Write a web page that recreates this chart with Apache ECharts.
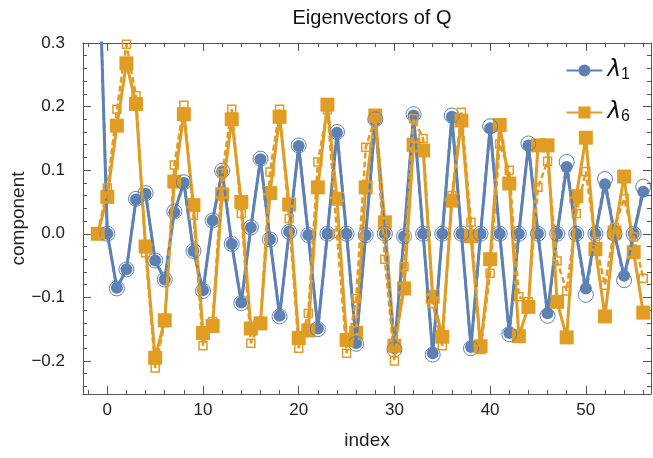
<!DOCTYPE html>
<html>
<head>
<meta charset="utf-8">
<script src="https://cdn.jsdelivr.net/npm/echarts@6.0.0/dist/echarts.min.js"></script>
<style>
  html, body { margin: 0; padding: 0; background: #fff; }
  #chart { width: 653px; height: 458px; }
</style>
</head>
<body>
<div id="chart"></div>
<script>
// index of each component
var indexData = [-1, 0, 1, 2, 3, 4, 5, 6, 7, 8, 9, 10, 11, 12, 13, 14, 15, 16, 17, 18, 19,
  20, 21, 22, 23, 24, 25, 26, 27, 28, 29, 30, 31, 32, 33, 34, 35, 36, 37, 38, 39,
  40, 41, 42, 43, 44, 45, 46, 47, 48, 49, 50, 51, 52, 53, 54, 55, 56];

// λ1, filled circles (solid line)
var lambda1 = [0.5, 0.0, -0.085, -0.056, 0.054, 0.063, -0.042, -0.072, 0.034, 0.08, -0.027,
  -0.089, 0.021, 0.098, -0.016, -0.108, 0.01, 0.117, -0.009, -0.129, 0.003,
  0.138, -0.002, -0.149, 0.0, 0.159, 0.0, -0.172, -0.002, 0.178, 0.0,
  -0.18, -0.004, 0.186, 0.0, -0.188, 0.0, 0.184, 0.0, -0.178, 0.0,
  0.166, 0.0, -0.156, 0.0, 0.139, 0.0, -0.125, 0.0, 0.105, 0.0,
  -0.086, 0.0, 0.078, 0.0, -0.066, 0.0, 0.066];

// λ1, open circles (dashed line)
var lambda1Ref = [0.5, 0.0, -0.086, -0.056, 0.055, 0.064, -0.042, -0.072, 0.035, 0.081, -0.027,
  -0.09, 0.021, 0.099, -0.016, -0.109, 0.01, 0.118, -0.009, -0.13, 0.003,
  0.139, -0.002, -0.15, 0.0, 0.16, 0.0, -0.173, -0.002, 0.18, 0.0,
  -0.182, -0.004, 0.188, 0.0, -0.19, 0.0, 0.186, 0.0, -0.18, 0.0,
  0.169, 0.0, -0.158, 0.0, 0.142, 0.0, -0.129, 0.0, 0.113, 0.0,
  -0.096, 0.0, 0.086, 0.0, -0.073, 0.0, 0.074];

// λ6, filled squares (solid line)
var lambda6 = [0.0, 0.058, 0.17, 0.268, 0.204, -0.02, -0.195, -0.136, 0.082, 0.188, 0.045,
  -0.156, -0.145, 0.062, 0.18, 0.05, -0.149, -0.141, 0.064, 0.184, 0.046,
  -0.164, -0.152, 0.073, 0.203, 0.055, -0.167, -0.156, 0.073, 0.186, 0.018,
  -0.176, -0.086, 0.14, 0.131, -0.099, -0.162, 0.052, 0.178, -0.004, -0.177,
  -0.04, 0.171, 0.079, -0.161, -0.115, 0.139, 0.139, -0.107, -0.163, 0.059,
  0.151, -0.024, -0.13, 0.002, 0.09, -0.029, -0.124];

// λ6, open squares (dashed line)
var lambda6Ref = [0.0, 0.072, 0.196, 0.298, 0.217, -0.03, -0.211, -0.14, 0.108, 0.202, 0.029,
  -0.176, -0.138, 0.095, 0.196, 0.032, -0.172, -0.138, 0.097, 0.196, 0.024,
  -0.18, -0.125, 0.113, 0.195, 0.0, -0.188, -0.102, 0.136, 0.182, -0.04,
  -0.2, -0.052, 0.181, 0.15, -0.11, -0.176, 0.06, 0.191, 0.018, -0.182,
  -0.062, 0.141, 0.1, -0.099, -0.107, 0.073, 0.114, -0.043, -0.09, 0.032,
  0.098, -0.012, -0.081, 0.01, 0.055, -0.005, -0.07];

// tick labels
var xMajor = [0, 10, 20, 30, 40, 50];
var xMinor = [-2, 2, 4, 6, 8, 12, 14, 16, 18, 22, 24, 26, 28, 32, 34, 36, 38,
  42, 44, 46, 48, 52, 54, 56];
var yMajor = [-0.2, -0.1, 0.0, 0.1, 0.2, 0.3];
var yMinor = [];
for (var k = -12; k <= 14; k++) {
  if (k % 5 !== 0) yMinor.push(k / 50);
}

var blue = '#5E81B5';
var orange = '#E19C24';
var frame = '#555555';
var font = 'Liberation Sans, Arial, sans-serif';

function pairs(vals) {
  return indexData.map(function (x, i) { return [x, vals[i]]; });
}

var chart = echarts.init(document.getElementById('chart'));

function xAx(pos, ticks, len, showLine, showLabel) {
  return {
    type: 'value', position: pos, min: -2.54, max: 56.81,
    axisLine: { show: showLine, onZero: false, lineStyle: { color: frame, width: 1 } },
    axisTick: { show: true, inside: true, length: len, customValues: ticks, lineStyle: { color: frame, width: 1 } },
    axisLabel: { show: showLabel, customValues: ticks, fontSize: 17, color: '#222', margin: 8, fontFamily: font },
    splitLine: { show: false }
  };
}
function yAx(pos, ticks, len, showLine, showLabel) {
  return {
    type: 'value', position: pos, min: -0.252, max: 0.3,
    axisLine: { show: showLine, onZero: false, lineStyle: { color: frame, width: 1 } },
    axisTick: { show: true, inside: true, length: len, customValues: ticks, lineStyle: { color: frame, width: 1 } },
    axisLabel: {
      show: showLabel, customValues: ticks, fontSize: 17, color: '#222', margin: 18, fontFamily: font,
      formatter: function (v) { return (v < 0 ? '\u2212' : '') + Math.abs(v).toFixed(1); }
    },
    splitLine: { show: false }
  };
}

var xBottom = xAx('bottom', xMajor, 8, true, true);
xBottom.name = 'index';
xBottom.nameLocation = 'middle';
xBottom.nameGap = 37;
xBottom.nameMoveOverlap = false;
xBottom.nameTextStyle = { fontSize: 19, color: '#222', fontFamily: font };

var yLeft = yAx('left', yMajor, 8, true, true);
yLeft.name = 'component';
yLeft.nameLocation = 'middle';
yLeft.nameGap = 55;
yLeft.nameMoveOverlap = false;
yLeft.nameTextStyle = { fontSize: 19, color: '#222', fontFamily: font };

var option = {
  animation: false,
  backgroundColor: '#fff',
  title: {
    text: 'Eigenvectors of Q',
    left: 367, top: 3, textAlign: 'center',
    textStyle: { fontSize: 20, fontWeight: 'normal', color: '#111', fontFamily: font }
  },
  grid: { left: 83, right: 2, top: 43, bottom: 64, containLabel: false, outerBoundsMode: 'none' },
  legend: {
    data: ['λ1', 'λ6'],
    orient: 'vertical',
    right: 18, top: 54,
    itemWidth: 36, itemHeight: 15, itemGap: 18,
    formatter: function (name) { return '{l|λ}{s|' + name.slice(1) + '}'; },
    textStyle: {
      rich: {
        l: { fontSize: 23, fontStyle: 'italic', color: '#111', fontFamily: 'DejaVu Sans, sans-serif' },
        s: { fontSize: 16, color: '#111', fontFamily: font, padding: [9, 0, 0, 0] }
      }
    }
  },
  xAxis: [
    xBottom,
    xAx('bottom', xMinor, 4, false, false),
    xAx('top', xMajor, 8, true, false),
    xAx('top', xMinor, 4, false, false)
  ],
  yAxis: [
    yLeft,
    yAx('left', yMinor, 4, false, false),
    yAx('right', yMajor, 8, true, false),
    yAx('right', yMinor, 4, false, false)
  ],
  series: [
    {
      name: 'λ1', type: 'line', data: pairs(lambda1),
      symbol: 'circle', symbolSize: 12,
      lineStyle: { color: blue, width: 3 },
      itemStyle: { color: blue },
      z: 2
    },
    {
      name: 'λ6', type: 'line', data: pairs(lambda6),
      symbol: 'rect', symbolSize: 14,
      lineStyle: { color: orange, width: 3 },
      itemStyle: { color: orange },
      z: 3
    },
    {
      name: 'λ1 ref', type: 'line', data: pairs(lambda1Ref),
      symbol: 'circle', symbolSize: 15,
      lineStyle: { color: blue, width: 2.5, type: [6, 3] },
      itemStyle: { color: 'rgba(0,0,0,0)', borderColor: blue, borderWidth: 1 },
      z: 4
    },
    {
      name: 'λ6 ref', type: 'line', data: pairs(lambda6Ref),
      symbol: 'rect', symbolSize: 8,
      lineStyle: { color: orange, width: 2.5, type: [6, 3] },
      itemStyle: { color: 'rgba(0,0,0,0)', borderColor: orange, borderWidth: 1.5 },
      z: 5
    }
  ]
};

chart.setOption(option);
</script>
</body>
</html>
